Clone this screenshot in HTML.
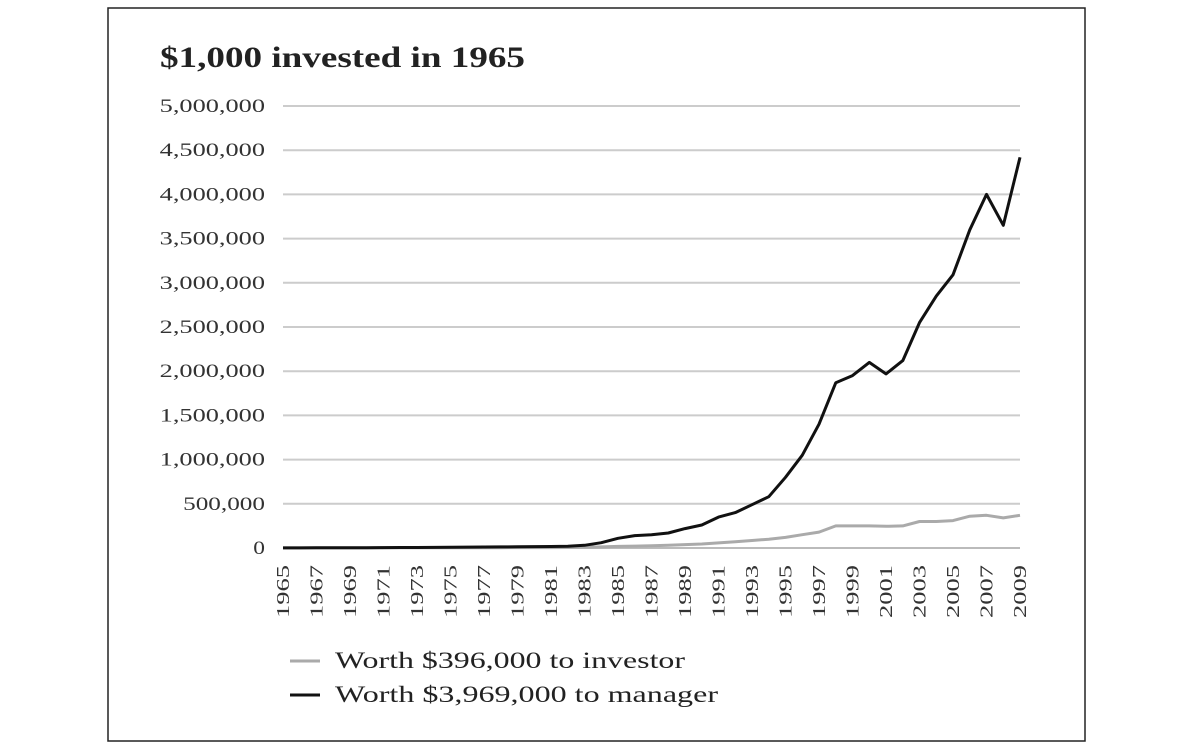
<!DOCTYPE html>
<html><head><meta charset="utf-8"><style>
html,body{margin:0;padding:0;background:#fff;}
svg{display:block;font-family:"Liberation Serif",serif;}
</style></head><body>
<svg width="1200" height="753" viewBox="0 0 1200 753">
<rect x="108" y="8" width="977" height="733" fill="#fff" stroke="#222" stroke-width="1.5"/>
<text x="160" y="67" font-size="30" font-weight="bold" fill="#222" textLength="365" lengthAdjust="spacingAndGlyphs">$1,000 invested in 1965</text>
<g id="grid"></g><g id="yt"></g><g id="xt"></g><g id="lines"></g>
<g>
<line x1="290" y1="661" x2="320" y2="661" stroke="#aaa" stroke-width="3"/>
<text x="335" y="668" font-size="23" fill="#222" textLength="350" lengthAdjust="spacingAndGlyphs">Worth $396,000 to investor</text>
<line x1="290" y1="695" x2="320" y2="695" stroke="#111" stroke-width="3"/>
<text x="335" y="702" font-size="23" fill="#222" textLength="383" lengthAdjust="spacingAndGlyphs">Worth $3,969,000 to manager</text>
</g>
</svg>
<script>
const years=[];for(let y=1965;y<=2009;y++)years.push(y);
const yTicks=[0,500000,1000000,1500000,2000000,2500000,3000000,3500000,4000000,4500000,5000000];
const manager=[1000,1300,1700,2200,2800,3500,4300,5200,6200,7300,8500,9800,11000,12500,14000,15500,17000,19000,30000,60000,110000,140000,150000,170000,220000,260000,350000,400000,490000,580000,800000,1050000,1400000,1870000,1950000,2100000,1970000,2120000,2550000,2850000,3090000,3600000,4000000,3650000,4420000];
const investor=[1000,1100,1200,1300,1400,1500,1700,1900,2100,2300,2600,2900,3200,3600,4000,4500,5000,5600,8000,12000,18000,22000,26000,32000,38000,45000,58000,70000,85000,100000,120000,150000,180000,250000,250000,250000,245000,250000,300000,300000,310000,360000,370000,340000,370000];
const X0=283,X1=1020,Y0=548,Y1=106;
const xs=y=>X0+(y-1965)*(X1-X0)/44;
const ys=v=>Y0-v*(Y0-Y1)/5000000;
const NS="http://www.w3.org/2000/svg";
function mk(t,a,p){const e=document.createElementNS(NS,t);for(const k in a)e.setAttribute(k,a[k]);p.appendChild(e);return e;}
const grid=document.getElementById('grid'),yt=document.getElementById('yt'),xt=document.getElementById('xt'),lines=document.getElementById('lines');
yTicks.forEach(v=>{
 const l=mk('line',{x1:283,x2:1020,y1:ys(v),y2:ys(v),stroke:v===0?'#bbb':'#ccc','stroke-width':2},grid);
 
 
 const s=v.toLocaleString('en-US');
 const w=s.length*11.7;
 const t=mk('text',{x:265-w,y:ys(v)+6,'font-size':19,fill:'#333',textLength:w,lengthAdjust:'spacingAndGlyphs'},yt);
 t.textContent=s;
 
 
});
years.forEach(y=>{
 if((y-1965)%2)return;
 const t=mk('text',{transform:`translate(${xs(y)+6},618) rotate(-90)`,'font-size':18,fill:'#333',textLength:53,lengthAdjust:'spacingAndGlyphs'},xt);
 t.textContent=y;
 
 
});
function path(arr,c,n){
 const p=mk('path',{d:arr.map((v,i)=>(i?'L':'M')+xs(years[i]).toFixed(1)+','+ys(v).toFixed(1)).join(''),fill:'none',stroke:c,'stroke-width':3,'stroke-linejoin':'round'},lines);
 
 
}
path(investor,'#aaa','investor-line');
path(manager,'#111','manager-line');
</script>
</body></html>
